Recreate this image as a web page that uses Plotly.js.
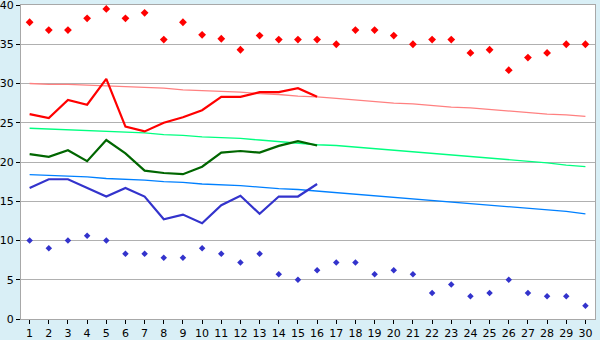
<!DOCTYPE html>
<html><head><meta charset="utf-8">
<script src="https://cdn.plot.ly/plotly-3.0.1.min.js"></script>
<style>html,body{margin:0;padding:0;background:#D9EFF6;}#c{width:600px;height:340px;}</style>
</head><body><div id="c"></div>
<script>
const days = [1,2,3,4,5,6,7,8,9,10,11,12,13,14,15,16,17,18,19,20,21,22,23,24,25,26,27,28,29,30];
const recordMax = [37.8,36.8,36.8,38.3,39.5,38.3,39.0,35.6,37.8,36.2,35.7,34.3,36.1,35.6,35.6,35.6,35.0,36.8,36.8,36.1,35.0,35.6,35.6,33.9,34.3,31.7,33.3,33.9,35.0,35.0];
const recordMin = [10.0,9.0,10.0,10.6,10.0,8.3,8.3,7.8,7.8,9.0,8.3,7.2,8.3,5.7,5.0,6.2,7.2,7.2,5.7,6.2,5.7,3.3,4.4,2.9,3.3,5.0,3.3,2.9,2.9,1.7];
const obsDays = [1,2,3,4,5,6,7,8,9,10,11,12,13,14,15,16];
const obsMax = [26.1,25.6,27.9,27.3,30.6,24.5,23.9,25.0,25.7,26.6,28.3,28.3,28.9,28.9,29.4,28.3];
const obsMean = [21.0,20.65,21.5,20.1,22.8,21.1,18.9,18.6,18.45,19.4,21.2,21.4,21.2,22.05,22.65,22.1];
const obsMin = [16.7,17.8,17.8,16.65,15.6,16.7,15.6,12.7,13.3,12.2,14.5,15.7,13.4,15.6,15.6,17.2];
const normMax = [30.0,29.9,29.9,29.8,29.7,29.6,29.5,29.4,29.2,29.1,29.0,28.9,28.7,28.6,28.4,28.3,28.1,27.9,27.7,27.5,27.4,27.2,27.0,26.9,26.7,26.5,26.3,26.1,26.0,25.8];
const normMean = [24.3,24.2,24.1,24.0,23.9,23.8,23.7,23.5,23.4,23.2,23.1,23.0,22.8,22.6,22.4,22.2,22.1,21.9,21.7,21.5,21.3,21.1,20.9,20.7,20.5,20.3,20.1,19.9,19.6,19.4];
const normMin = [18.4,18.3,18.2,18.1,17.9,17.8,17.7,17.5,17.4,17.2,17.1,17.0,16.8,16.6,16.5,16.3,16.1,15.9,15.7,15.5,15.3,15.1,14.9,14.7,14.5,14.3,14.1,13.9,13.7,13.4];
const yTicks = [0,5,10,15,20,25,30,35,40];

const traces = [
  {x:days,y:normMax,mode:'lines',line:{color:'#FF8080',width:1.3}},
  {x:days,y:normMean,mode:'lines',line:{color:'#00FF80',width:1.3}},
  {x:days,y:normMin,mode:'lines',line:{color:'#0080FF',width:1.3}},
  {x:days,y:recordMax,mode:'markers',marker:{symbol:'diamond',size:6,color:'#FF0000'}},
  {x:days,y:recordMin,mode:'markers',marker:{symbol:'diamond',size:5,color:'#3333CC'}},
  {x:obsDays,y:obsMax,mode:'lines',line:{color:'#FF0000',width:2.2}},
  {x:obsDays,y:obsMean,mode:'lines',line:{color:'#006600',width:2.2}},
  {x:obsDays,y:obsMin,mode:'lines',line:{color:'#3333CC',width:2.2}}
];
const layout = {
  width:600,height:340,showlegend:false,
  paper_bgcolor:'#D9EFF6',plot_bgcolor:'#FFFFFF',
  margin:{l:21,r:5,t:5,b:21},
  font:{family:'DejaVu Sans, Verdana, sans-serif',size:11,color:'#000'},
  xaxis:{range:[0.55,30.5],tickvals:days,ticktext:days.map(String),showgrid:false,zeroline:false,
    showline:true,linecolor:'#A8A8A8',linewidth:1,mirror:true,ticks:'outside',ticklen:4,tickcolor:'#000',
    tickfont:{size:11},ticklabeloverflow:'allow',ticklabelstandoff:0},
  yaxis:{range:[0,40],tickvals:yTicks,ticktext:yTicks.map(String),showgrid:true,gridcolor:'#B0B0B0',gridwidth:1,zeroline:false,
    showline:true,linecolor:'#A8A8A8',linewidth:1,mirror:true,ticks:'outside',ticklen:4,tickcolor:'#000',
    tickfont:{size:11},ticklabeloverflow:'allow'}
};
Plotly.newPlot('c',traces,layout,{staticPlot:true,displayModeBar:false});
</script></body></html>
